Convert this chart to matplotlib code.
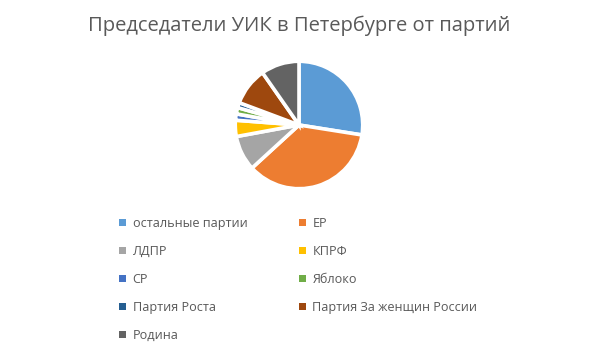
import matplotlib
matplotlib.use("Agg")
import matplotlib.pyplot as plt

labels = ["остальные партии", "ЕР", "ЛДПР", "КПРФ", "СР", "Яблоко",
          "Партия Роста", "Партия За женщин России", "Родина"]
values = [27.5, 35.7, 8.9, 4.1, 1.6, 1.6, 1.3, 9.6, 9.7]
colors = ["#5B9BD5", "#ED7D31", "#A5A5A5", "#FFC000", "#4472C4",
          "#70AD47", "#255E91", "#9E480E", "#636363"]

plt.rcParams['font.family'] = ['Open Sans', 'DejaVu Sans']
W, H = 597, 358
fig = plt.figure(figsize=(W / 100, H / 100), dpi=100)
fig.patch.set_facecolor("white")

cx, cy, r = 299, 125, 65
ax = fig.add_axes([(cx - r) / W, (H - cy - r) / H, 2 * r / W, 2 * r / H])
wedges, _ = ax.pie(values, colors=colors, startangle=90, counterclock=False,
                   radius=1.0,
                   wedgeprops=dict(edgecolor="white", linewidth=2.6))
ax.set_xlim(-1.02, 1.02)
ax.set_ylim(-1.02, 1.02)
ax.set_aspect("equal")
ax.axis("off")

fig.text(cx / W, 1 - 26 / H, "Председатели УИК в Петербурге от партий",
         ha="center", va="center", fontsize=14.5, color="#595959")

order = [0, 2, 4, 6, 8, 1, 3, 5, 7]
leg = fig.legend([wedges[i] for i in order], [labels[i] for i in order],
                 ncol=2, loc="upper left", bbox_to_anchor=(108 / W, 1 - 206 / H),
                 frameon=False, fontsize=9.1, labelcolor="#595959",
                 handlelength=0.5, handleheight=0.5, handletextpad=0.55,
                 labelspacing=1.18, columnspacing=4.1)
for h in leg.legend_handles:
    h.set_linewidth(0)

fig.savefig("out.png", dpi=100)
